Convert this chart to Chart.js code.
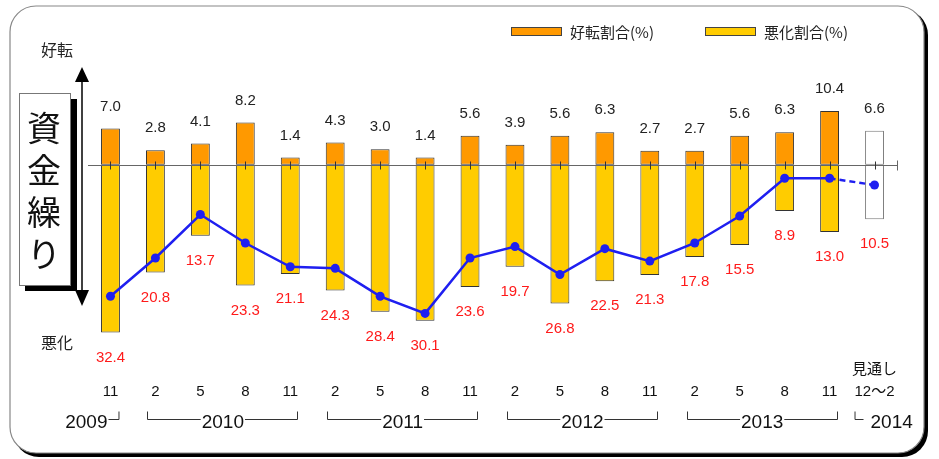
<!DOCTYPE html>
<html lang="ja">
<head>
<meta charset="utf-8">
<title>資金繰り</title>
<script src="https://cdn.jsdelivr.net/npm/chart.js@4.4.1/dist/chart.umd.min.js"></script>
<style>
  html, body { margin: 0; padding: 0; background: #fff; }
  #wrap { width: 939px; height: 459px; position: relative; }
</style>
</head>
<body>
<div id="wrap"><canvas id="fundChart"></canvas></div>
<script>
// 調査月 (最後は見通し)
const months = ['11', '2', '5', '8', '11', '2', '5', '8', '11', '2', '5', '8', '11', '2', '5', '8', '11', '12〜2'];
const outlookNote = '見通し';
// 好転割合(%) / 悪化割合(%)
const goodShare = [7.0, 2.8, 4.1, 8.2, 1.4, 4.3, 3.0, 1.4, 5.6, 3.9, 5.6, 6.3, 2.7, 2.7, 5.6, 6.3, 10.4, 6.6];
const badShare = [32.4, 20.8, 13.7, 23.3, 21.1, 24.3, 28.4, 30.1, 23.6, 19.7, 26.8, 22.5, 21.3, 17.8, 15.5, 8.9, 13.0, 10.5];
// DI (好転 - 悪化)
const diValues = [-25.4, -18.0, -9.6, -15.1, -19.7, -20.0, -25.4, -28.7, -18.0, -15.8, -21.2, -16.2, -18.6, -15.1, -9.9, -2.6, -2.6, -3.9];
// 年の区切り
const yearGroups = [
  { year: '2009', from: 0, to: 0 },
  { year: '2010', from: 1, to: 4 },
  { year: '2011', from: 5, to: 8 },
  { year: '2012', from: 9, to: 12 },
  { year: '2013', from: 13, to: 16 },
  { year: '2014', from: 17, to: 17 }
];

const FONT = "'Liberation Sans', 'Noto Sans CJK JP', sans-serif";
const JP_FONT = "'Noto Sans CJK JP', sans-serif";
const lastIdx = months.length - 1;

const orange = '#FF9900';
const yellow = '#FFCC00';

Chart.defaults.font.family = FONT;

const tickLabels = months.map((m, i) => i === lastIdx ? [outlookNote, m] : ['', m]);

// 枠
const framePlugin = {
  id: 'frame',
  beforeDraw(chart) {
    const ctx = chart.ctx;
    ctx.save();
    ctx.fillStyle = '#000';
    ctx.beginPath();
    ctx.roundRect(13, 9, 915, 448, 26);
    ctx.fill();
    ctx.fillStyle = '#fff';
    ctx.strokeStyle = '#888';
    ctx.lineWidth = 1.2;
    ctx.beginPath();
    ctx.roundRect(10, 6, 914, 447, 26);
    ctx.fill();
    ctx.stroke();
    ctx.restore();
  }
};

// 左側の見出し・矢印・凡例
const sidePlugin = {
  id: 'side',
  afterDraw(chart) {
    const ctx = chart.ctx;
    ctx.save();
    ctx.fillStyle = '#222';
    ctx.font = '16px ' + JP_FONT;
    ctx.textAlign = 'center';
    ctx.textBaseline = 'middle';
    ctx.fillText('好転', 57, 50);
    ctx.fillText('悪化', 57, 343);

    // 両矢印
    ctx.strokeStyle = '#000';
    ctx.lineWidth = 1.5;
    ctx.beginPath();
    ctx.moveTo(82, 78);
    ctx.lineTo(82, 292);
    ctx.stroke();
    ctx.fillStyle = '#000';
    ctx.beginPath();
    ctx.moveTo(82, 67); ctx.lineTo(75, 82); ctx.lineTo(89, 82); ctx.closePath();
    ctx.fill();
    ctx.beginPath();
    ctx.moveTo(82, 306); ctx.lineTo(75, 290); ctx.lineTo(89, 290); ctx.closePath();
    ctx.fill();

    // 資金繰りの箱
    ctx.fillStyle = '#000';
    ctx.fillRect(25, 99, 52, 192);
    ctx.fillStyle = '#fff';
    ctx.fillRect(19, 93, 51, 192);
    ctx.strokeStyle = '#777';
    ctx.lineWidth = 1;
    ctx.strokeRect(19.5, 93.5, 51, 192);
    ctx.fillStyle = '#111';
    ctx.font = '34px ' + JP_FONT;
    ['資', '金', '繰', 'り'].forEach((ch, k) => ctx.fillText(ch, 44, 128 + k * 42));

    // 凡例
    const items = [
      { text: '好転割合(%)', color: orange, x: 511 },
      { text: '悪化割合(%)', color: yellow, x: 705 }
    ];
    ctx.font = '15px ' + JP_FONT;
    ctx.textAlign = 'left';
    items.forEach(it => {
      ctx.fillStyle = it.color;
      ctx.fillRect(it.x, 27, 51, 9);
      ctx.strokeStyle = '#444';
      ctx.strokeRect(it.x + 0.5, 27.5, 50, 8);
      ctx.fillStyle = '#222';
      ctx.fillText(it.text, it.x + 59, 32);
    });
    ctx.restore();
  }
};

// ゼロ線と目盛り、数値ラベル
const axisPlugin = {
  id: 'zeroAxis',
  afterDatasetDraw(chart, args) {
    if (args.index !== 2) return;
    const ctx = chart.ctx;
    const x = chart.scales.x;
    const y0 = Math.round(chart.scales.y.getPixelForValue(0)) + 0.5;
    const area = chart.chartArea;
    ctx.save();
    ctx.strokeStyle = '#666';
    ctx.lineWidth = 1.2;
    ctx.beginPath();
    ctx.moveTo(area.left, y0);
    ctx.lineTo(area.right, y0);
    ctx.stroke();
    ctx.lineWidth = 1;
    ctx.strokeStyle = '#333';
    months.forEach((m, i) => {
      const px = Math.round(x.getPixelForValue(i)) + 0.5;
      ctx.beginPath();
      ctx.moveTo(px, y0 - 4);
      ctx.lineTo(px, y0 + 4);
      ctx.stroke();
    });
    ctx.strokeStyle = '#666';
    ctx.beginPath();
    ctx.moveTo(Math.round(area.right) + 0.5, y0 - 5);
    ctx.lineTo(Math.round(area.right) + 0.5, y0 + 5);
    ctx.stroke();
    ctx.restore();
  },
  afterDatasetsDraw(chart) {
    const ctx = chart.ctx;
    ctx.save();
    ctx.font = '15px ' + FONT;
    ctx.textAlign = 'center';
    ctx.textBaseline = 'middle';
    chart.getDatasetMeta(1).data.forEach((bar, i) => {
      ctx.fillStyle = '#222';
      ctx.fillText(goodShare[i].toFixed(1), bar.x, bar.y - 22);
    });
    chart.getDatasetMeta(2).data.forEach((bar, i) => {
      ctx.fillStyle = '#ff1a1a';
      ctx.fillText(badShare[i].toFixed(1), bar.x, bar.y + 25);
    });

    // 年の区切り
    const xs = chart.scales.x;
    const yLine = 419.5;
    ctx.strokeStyle = '#333';
    ctx.lineWidth = 1;
    ctx.fillStyle = '#111';
    ctx.font = '19px ' + FONT;
    yearGroups.forEach(g => {
      const a = xs.getPixelForValue(g.from);
      const b = xs.getPixelForValue(g.to);
      if (g.from === 0) {
        ctx.textAlign = 'right';
        ctx.fillText(g.year, a - 3, 423);
        ctx.beginPath();
        ctx.moveTo(a - 2, yLine);
        ctx.lineTo(a + 8.5, yLine);
        ctx.lineTo(a + 8.5, yLine - 8);
        ctx.stroke();
      } else if (g.from === lastIdx) {
        ctx.textAlign = 'left';
        ctx.fillText(g.year, a - 4, 423);
        ctx.beginPath();
        ctx.moveTo(a - 19.5, yLine - 8);
        ctx.lineTo(a - 19.5, yLine);
        ctx.lineTo(a - 11, yLine);
        ctx.stroke();
      } else {
        const left = Math.round(a - 8) + 0.5;
        const right = Math.round(b + 7) + 0.5;
        const mid = (a + b) / 2;
        ctx.textAlign = 'center';
        const w = ctx.measureText(g.year).width / 2 + 1;
        ctx.fillText(g.year, mid, 423);
        ctx.beginPath();
        ctx.moveTo(left, yLine - 8);
        ctx.lineTo(left, yLine);
        ctx.lineTo(mid - w, yLine);
        ctx.moveTo(mid + w, yLine);
        ctx.lineTo(right, yLine);
        ctx.lineTo(right, yLine - 8);
        ctx.stroke();
      }
    });
    ctx.restore();
  }
};

const ctx = document.getElementById('fundChart').getContext('2d');

const fundChart = new Chart(ctx, {
  data: {
    labels: tickLabels,
    datasets: [
      {
        type: 'line',
        label: 'DI',
        data: diValues,
        borderColor: '#1f1ff0',
        backgroundColor: '#1f1ff0',
        borderWidth: 2.5,
        pointRadius: 4.5,
        pointBorderWidth: 0,
        tension: 0,
        order: 0,
        segment: {
          borderDash: c => c.p1DataIndex === lastIdx ? [6, 4] : undefined
        }
      },
      {
        type: 'bar',
        label: '好転割合(%)',
        data: goodShare,
        backgroundColor: goodShare.map((v, i) => i === lastIdx ? '#fff' : orange),
        borderColor: goodShare.map((v, i) => i === lastIdx ? '#777' : '#333'),
        borderWidth: 1,
        borderSkipped: false,
        barPercentage: 0.42,
        categoryPercentage: 1,
        order: 2
      },
      {
        type: 'bar',
        label: '悪化割合(%)',
        data: badShare.map(v => -v),
        backgroundColor: badShare.map((v, i) => i === lastIdx ? '#fff' : yellow),
        borderColor: badShare.map((v, i) => i === lastIdx ? '#777' : '#333'),
        borderWidth: 1,
        borderSkipped: false,
        barPercentage: 0.42,
        categoryPercentage: 1,
        order: 1
      }
    ]
  },
  options: {
    responsive: true,
    maintainAspectRatio: false,
    animation: false,
    layout: {
      padding: { left: 88, right: 42, top: 82, bottom: 53 }
    },
    plugins: {
      legend: { display: false },
      tooltip: { enabled: false }
    },
    scales: {
      x: {
        stacked: true,
        grid: { display: false, drawTicks: false },
        border: { display: false },
        ticks: {
          autoSkip: false,
          maxRotation: 0,
          padding: 13,
          color: '#111',
          font: { size: 15, family: FONT, lineHeight: 1.45 }
        },
        afterFit: axis => { axis.height = 60; }
      },
      y: {
        stacked: true,
        display: false,
        min: -35,
        max: 16
      }
    }
  },
  plugins: [framePlugin, axisPlugin, sidePlugin]
});
</script>
</body>
</html>
